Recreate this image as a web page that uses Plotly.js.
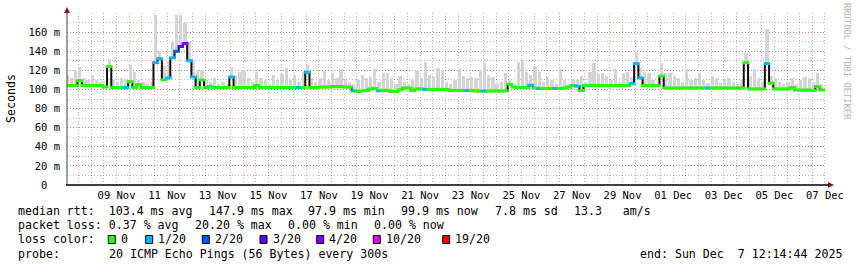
<!DOCTYPE html>
<html><head><meta charset="utf-8">
<script src="https://cdn.plot.ly/plotly-3.0.1.min.js"></script>
<style>html,body{margin:0;padding:0;background:#fff}#chart{width:857px;height:267px}</style>
</head><body><div id="chart"></div>
<script>
// ---- data ----
const rangeStart = '2025-11-07 13:00:00';
const rangeEnd = '2025-12-07 13:00:00';
const stepHours = 4;
const medianMs = [
104,104,104,109,104,104,104,104,104,102.5,
124,102,102,102,102,108,102,105,102,102,
102,128,132,110,112,133,140,145,148,130,
113,102,110,102,103,102,102,102,102,113,
102,102,102,102,102,104,102,102,102,102,
102,102,102,102,102,102,102,118,102,102,
102.5,102.5,102.5,103,103,103,102.5,102.5,98.5,98,
98.5,99,100.5,101,98.5,99,99,98,97.9,99.5,
101.5,101.5,99,100.5,100.5,100,100,100,100,100,
100,99,99,99,99,99,99,98.3,98.3,98.3,
98.3,98.3,98.3,98.3,98.5,105.5,102.5,102,102,102,
104.5,101.5,101,101,101,101,101,101,101.5,102.5,
104,103.5,99,104,104,104,104,104,104,104,
104,104,104,104,106,127,112,104,104,104,
104,114,101.5,101.5,101.5,101.5,101.5,101.5,101.5,101.5,
101.5,101.5,101.5,101.5,101.5,101.5,101.5,101.5,101.5,101.5,
101.5,128,100.5,100.5,100.5,100.5,127,106.5,100.5,100.5,
100.5,100.5,102,99.3,99.3,99.3,99.3,99,103,99.5
];
const smokeMaxMs = [
115,112,120,123,112,110,115,110,108,106,
132,110,108,112,110,126,118,110,108,106,
108,178,140,125,130,150,178,178,170,150,
130,120,120,110,108,112,106,108,106,122,
115,118,120,112,108,118,112,110,106,115,
110,116,122,110,115,108,118,126,112,108,
112,119,110,117,112,121,110,108,106,110,
115,112,113,121,108,117,117,112,106,114,
108,106,110,120,112,129,115,113,122,120,
108,106,110,121,114,112,113,112,120,128,
115,113,106,108,117,110,106,129,131,118,
115,125,118,108,113,110,106,121,110,106,
111,110,114,108,118,128,116,117,114,110,
121,108,117,118,113,138,122,118,117,110,
106,128,117,117,114,112,108,121,110,112,
117,110,107,114,112,107,110,112,108,106,
110,138,114,121,112,108,163,114,112,108,
106,108,112,106,110,113,112,108,117,106
];
const lossCount = [
0,0,0,0,0,0,0,0,0,0, 0,0,0,0,1,0,0,0,0,0,
0,1,1,0,1,1,2,3,4,1, 1,0,0,0,0,0,0,0,0,1,
0,0,0,0,0,0,0,0,0,0, 0,0,0,0,0,1,0,1,0,0,
0,0,0,0,0,0,0,0,1,0, 0,0,0,0,1,0,0,0,0,0,
0,0,0,0,0,1,0,0,0,0, 0,0,0,0,0,1,0,0,0,1,
0,0,0,0,0,0,0,0,0,0, 1,0,1,0,0,0,1,0,0,0,
0,1,0,0,0,0,0,0,0,0, 0,0,0,0,1,1,1,0,0,0,
0,0,0,0,0,0,0,0,0,0, 0,0,1,0,0,0,0,0,0,0,
0,0,0,0,0,0,1,0,0,0, 0,0,0,0,0,0,0,0,0,0
];
const lossLevels = [0, 1, 2, 3, 4, 10, 19];
const lossColors = ['#26ff00', '#00b8ff', '#0059ff', '#5e00ff', '#7e00ff', '#dd00ff', '#ff0000'];
const lossLabels = ['0', '1/20', '2/20', '3/20', '4/20', '10/20', '19/20'];
const xTickDates = ['2025-11-09 12:00','2025-11-11 12:00','2025-11-13 12:00','2025-11-15 12:00','2025-11-17 12:00','2025-11-19 12:00','2025-11-21 12:00','2025-11-23 12:00','2025-11-25 12:00','2025-11-27 12:00','2025-11-29 12:00','2025-12-01 12:00','2025-12-03 12:00','2025-12-05 12:00','2025-12-07 12:00'];
const xTickText = ['09 Nov','11 Nov','13 Nov','15 Nov','17 Nov','19 Nov','21 Nov','23 Nov','25 Nov','27 Nov','29 Nov','01 Dec','03 Dec','05 Dec','07 Dec'];
const yTickVals = [0, 20, 40, 60, 80, 100, 120, 140, 160];
const yTickText = ['0\u00a0\u00a0', '20 m', '40 m', '60 m', '80 m', '100 m', '120 m', '140 m', '160 m'];
const statsRtt = ['median rtt:\u00a0\u00a0103.4 ms avg', '147.9 ms max', '97.9 ms min', '99.9 ms now', '7.8 ms sd', '13.3\u00a0\u00a0\u00a0am/s'];
const statsLoss = ['packet loss: 0.37 % avg', '20.20 % max', '0.00 % min', '0.00 % now'];
const probeText = ['probe:', '20 ICMP Echo Pings (56 Bytes) every 300s', 'end: Sun Dec\u00a0\u00a07 12:14:44 2025'];

// ---- build ----
const t0 = Date.parse(rangeStart.replace(' ', 'T') + 'Z');
const fmt = ms => new Date(ms).toISOString().replace('T', ' ').slice(0, 19);
const times = medianMs.map((_, i) => fmt(t0 + i * stepHours * 3600e3));
const colorFor = l => { let c = lossColors[0]; lossLevels.forEach((lv, k) => { if (l >= lv) c = lossColors[k]; }); return c; };
const ptColors = lossCount.map(colorFor);

const FONT = 'DejaVu Sans Mono';
const traces = [
  { type: 'bar', x: times, base: medianMs, y: smokeMaxMs.map((v, i) => Math.max(0, v - medianMs[i])),
    width: 3.1 * 3600e3, marker: { color: '#d4d4d4', line: { width: 0 } }, xaxis: 'x', yaxis: 'y', hoverinfo: 'skip' },
  { type: 'scatter', mode: 'lines', x: times, y: medianMs, line: { color: '#111', width: 2, shape: 'hvh' },
    xaxis: 'x2', yaxis: 'y', hoverinfo: 'skip' },
  { type: 'scatter', mode: 'markers', x: times, y: medianMs, xaxis: 'x2', yaxis: 'y', hoverinfo: 'skip',
    marker: { symbol: 'line-ew', size: 4.6, line: { width: 3, color: ptColors } } }
];

const ax = x => (x - 67) / 759;
const ay = y => (185 - y) / 172;
const ann = [];
const txt = (s, x, y, extra) => ann.push(Object.assign({ text: s, xref: 'paper', yref: 'paper', x: ax(x), y: ay(y),
  xanchor: 'left', yanchor: 'middle', showarrow: false, font: { family: FONT, size: 11.6, color: '#000' } }, extra || {}));
[16, 206.5, 306.3, 399.3, 492.5, 572].forEach((x, k) => txt(statsRtt[k], x, 211));
[16, 192.5, 285.5, 371.5].forEach((x, k) => txt(statsLoss[k], x, 225));
txt('loss color:', 16, 239.5);
const swX = [108.3, 145.7, 202.3, 260, 316.7, 373.3, 442.7];
const shapes = [];
swX.forEach((x, k) => {
  shapes.push({ type: 'rect', xref: 'paper', yref: 'paper', x0: ax(x), x1: ax(x + 7), y0: ay(243.5), y1: ay(235.5),
    fillcolor: lossColors[k], line: { color: '#000', width: 1 } });
  txt(lossLabels[k], x + 10.7, 239.5);
});
txt(probeText[0], 16, 254);
txt(probeText[1], 107.3, 254);
txt(probeText[2], 638.3, 254);
ann.push({ text: 'Seconds', xref: 'paper', yref: 'paper', x: ax(11), y: ay(99), xanchor: 'center', yanchor: 'middle',
  textangle: -90, showarrow: false, font: { family: FONT, size: 11.6, color: '#000' } });
ann.push({ text: 'RRDTOOL / TOBI OETIKER', xref: 'paper', yref: 'paper', x: ax(847), y: ay(61), xanchor: 'center', yanchor: 'middle',
  textangle: 90, showarrow: false, font: { family: FONT, size: 8.8, color: '#b4b4b4' } });
// axis arrows
const P = (x, y) => ax(x) + ',' + ay(y);
shapes.push({ type: 'path', xref: 'paper', yref: 'paper', path: 'M' + P(64, 13) + 'L' + P(70, 13) + 'L' + P(67, 7) + 'Z',
  fillcolor: '#8b1a1a', line: { width: 0 } });
shapes.push({ type: 'path', xref: 'paper', yref: 'paper', path: 'M' + P(828, 182) + 'L' + P(828, 188) + 'L' + P(834, 185) + 'Z',
  fillcolor: '#8b1a1a', line: { width: 0 } });
shapes.push({ type: 'line', xref: 'paper', yref: 'paper', x0: ax(67), x1: ax(67), y0: ay(185), y1: ay(12), line: { color: '#444', width: 1 } });
shapes.push({ type: 'line', xref: 'paper', yref: 'paper', x0: ax(66), x1: ax(829), y0: ay(185), y1: ay(185), line: { color: '#000', width: 1.5 } });

const majorGrid = 'rgba(235,60,60,0.5)';
const minorGrid = 'rgba(0,0,0,0.28)';
const dash = '1px,2px';
const layout = {
  width: 857, height: 267, margin: { l: 67, r: 31, t: 13, b: 82, pad: 0 },
  paper_bgcolor: '#fff', plot_bgcolor: '#fff', showlegend: false, barmode: 'overlay', bargap: 0,
  font: { family: FONT, size: 10.5, color: '#000' },
  xaxis: { type: 'date', range: [rangeStart, rangeEnd], tickmode: 'linear', tick0: '2025-11-08 00:00', dtick: 86400000,
    showticklabels: false, ticks: '', showgrid: true, gridcolor: majorGrid, griddash: dash, gridwidth: 1,
    minor: { tickmode: 'linear', tick0: '2025-11-08 00:00', dtick: 43200000, showgrid: true, gridcolor: minorGrid, griddash: dash, gridwidth: 1 },
    showline: false, zeroline: false, fixedrange: true },
  xaxis2: { type: 'date', overlaying: 'x', anchor: 'y', side: 'bottom', range: [rangeStart, rangeEnd], tickmode: 'array',
    tickvals: xTickDates, ticktext: xTickText, showgrid: false, showline: false, zeroline: false, ticks: '',
    ticklabelstandoff: 2, tickfont: { family: FONT, size: 10.5, color: '#000' }, fixedrange: true },
  yaxis: { range: [0, 180], tickmode: 'array', tickvals: yTickVals, ticktext: yTickText, showgrid: true, gridcolor: majorGrid,
    griddash: dash, gridwidth: 1, minor: { tickmode: 'linear', tick0: 0, dtick: 10, showgrid: true, gridcolor: minorGrid, griddash: dash },
    showline: false, zeroline: false, ticks: '', ticklabelstandoff: 6, tickfont: { family: FONT, size: 10.5, color: '#000' }, fixedrange: true },
  annotations: ann, shapes: shapes
};
Plotly.newPlot('chart', traces, layout, { displayModeBar: false, staticPlot: true });
</script></body></html>
